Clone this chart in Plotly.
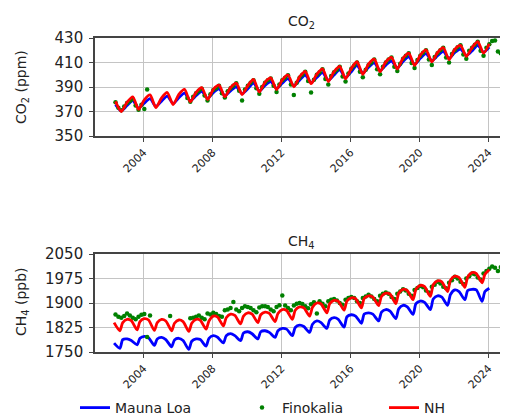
import plotly.graph_objects as go

# ---------------- data ----------------
YEARS = list(range(2002, 2025))

CO2_LINE_MONTHS = [1, 5, 9]
CH4_LINE_MONTHS = [1, 4, 8, 10]
DOT_MONTHS = [1, 3, 5, 7, 9, 11]

# CO2 (ppm) Mauna Loa, rows = years 2002..2024, columns = CO2_LINE_MONTHS
co2_mauna_loa = [
    [None, 375.6, 370.5], [374.9, 378.9, 372.8], [376.8, 380.5, 374.1],
    [378.5, 382.5, 376.5], [381.2, 385.0, 378.8], [382.9, 386.4, 380.7],
    [385.4, 388.5, 382.9], [386.9, 390.2, 384.6], [388.5, 393.2, 386.8],
    [391.3, 394.4, 388.8], [393.1, 396.8, 391.1], [395.6, 399.8, 393.6],
    [397.8, 401.8, 395.4], [399.9, 403.9, 397.6], [402.5, 407.6, 401.3],
    [406.1, 409.7, 403.4], [407.9, 411.2, 405.6], [410.9, 414.7, 408.5],
    [413.4, 417.3, 411.5], [415.5, 419.1, 413.3], [418.2, 421.0, 415.9],
    [419.5, 424.0, 418.5], [422.6, None, None],
]

# CO2 (ppm) NH
co2_nh = [
    [None, 378.3, 370.0], [377.6, 382.0, 371.8], [379.5, 383.5, 373.2],
    [381.2, 385.5, 375.6], [383.9, 388.0, 377.9], [385.6, 389.4, 379.8],
    [388.1, 391.5, 382.0], [389.6, 393.2, 383.7], [391.2, 396.2, 385.9],
    [394.0, 397.4, 387.9], [395.8, 399.8, 390.2], [398.3, 402.8, 392.7],
    [400.5, 404.8, 394.5], [402.6, 406.9, 396.7], [405.2, 410.6, 400.4],
    [408.8, 412.7, 402.5], [410.6, 414.2, 404.7], [413.6, 417.7, 407.6],
    [416.1, 420.3, 410.6], [418.2, 422.1, 412.4], [420.9, 424.0, 415.0],
    [422.2, 427.0, 417.6], [425.3, None, None],
]

# CO2 (ppm) Finokalia, columns = DOT_MONTHS
co2_finokalia = [
    [None, None, 377.5, 373.0, 371.0, 374.0],
    [377.0, 378.5, 380.0, 375.0, 371.5, 375.5],
    [372.0, 388.0, None, None, None, None],
    [None, None, None, None, None, None],
    [None, None, None, 381.0, 378.0, 382.0],
    [385.0, 387.0, 388.5, 383.0, 379.0, 384.0],
    [387.5, 389.0, 391.0, 385.0, 381.5, 386.5],
    [389.0, 391.0, 393.0, 387.0, 379.0, 388.0],
    [391.0, 393.5, 395.5, 389.0, 384.5, 390.0],
    [393.5, 395.5, 397.0, 391.0, 386.0, 392.0],
    [395.5, 397.5, 399.5, 392.0, 383.5, 393.5],
    [397.5, 400.0, 402.5, 395.0, 385.5, 396.0],
    [400.0, 402.0, 404.5, 396.5, 392.0, 399.0],
    [402.0, 404.0, 406.5, 398.5, 394.5, 401.0],
    [405.0, 407.5, 410.0, 402.5, 398.0, 404.0],
    [408.0, 410.0, 412.5, 404.5, 400.5, 406.5],
    [410.0, 412.5, 414.0, 406.5, 403.0, 409.0],
    [413.0, 415.5, 417.5, 409.5, 405.5, 412.0],
    [415.5, 418.0, 420.0, 412.5, 408.0, 414.5],
    [417.5, 420.0, 422.0, 414.0, 410.0, 417.0],
    [420.0, 422.5, 424.0, 416.5, 413.0, 419.5],
    [422.0, 424.5, 427.0, 419.5, 415.5, 422.0],
    [425.0, 427.5, 428.0, 419.0, 417.5, None],
]

# CH4 (ppb) Mauna Loa, columns = CH4_LINE_MONTHS
ch4_mauna_loa = [
    [None, 1777, 1761, 1788], [1790, 1785, 1772, 1792], [1798, 1793, 1770, 1790],
    [1795, 1788, 1766, 1787], [1792, 1785, 1758, 1783], [1790, 1788, 1768, 1792],
    [1800, 1795, 1778, 1800], [1806, 1800, 1785, 1808], [1812, 1806, 1790, 1812],
    [1815, 1810, 1795, 1815], [1822, 1820, 1800, 1825], [1832, 1828, 1810, 1835],
    [1845, 1840, 1822, 1848], [1855, 1850, 1826, 1858], [1864, 1860, 1838, 1866],
    [1870, 1866, 1845, 1872], [1880, 1875, 1852, 1882], [1893, 1888, 1865, 1898],
    [1906, 1902, 1880, 1912], [1922, 1918, 1893, 1926], [1940, 1935, 1910, 1938],
    [1942, 1940, 1905, 1935], [1945, None, None, None],
]

# CH4 (ppb) NH
ch4_nh = [
    [None, 1840, 1815, 1840], [1850, 1846, 1818, 1843], [1852, 1848, 1816, 1840],
    [1850, 1845, 1815, 1838], [1848, 1843, 1813, 1838], [1850, 1847, 1820, 1845],
    [1860, 1857, 1830, 1855], [1866, 1862, 1836, 1860], [1870, 1866, 1840, 1864],
    [1872, 1868, 1843, 1868], [1880, 1877, 1850, 1878], [1888, 1885, 1860, 1887],
    [1900, 1897, 1870, 1898], [1908, 1905, 1878, 1906], [1916, 1913, 1885, 1914],
    [1922, 1918, 1892, 1920], [1930, 1927, 1898, 1930], [1942, 1938, 1910, 1942],
    [1954, 1950, 1920, 1956], [1968, 1965, 1935, 1970], [1982, 1978, 1948, 1980],
    [1993, 1990, 1962, 1988], [2002, None, None, None],
]

# CH4 (ppb) Finokalia, columns = DOT_MONTHS
ch4_finokalia = [
    [None, None, 1865, 1858, 1855, 1860],
    [1868, 1862, 1855, 1850, 1858, 1864],
    [1866, 1796, 1862, None, None, None],
    [None, None, None, 1860, None, None],
    [None, None, None, None, 1853, 1855],
    [1858, 1862, 1855, 1850, 1868, 1865],
    [1870, 1866, 1860, 1858, 1878, 1880],
    [1885, 1903, 1880, 1875, 1885, 1890],
    [1888, 1885, 1878, 1872, 1886, 1890],
    [1890, 1888, 1880, 1875, 1888, 1893],
    [1923, 1892, 1885, 1878, 1892, 1898],
    [1900, 1897, 1890, 1884, 1896, 1902],
    [1868, 1905, 1898, 1890, 1905, 1910],
    [1912, 1908, 1900, 1895, 1910, 1915],
    [1918, 1915, 1905, 1900, 1915, 1920],
    [1925, 1920, 1912, 1905, 1922, 1928],
    [1932, 1928, 1918, 1912, 1928, 1935],
    [1942, 1938, 1928, 1922, 1940, 1946],
    [1952, 1948, 1938, 1932, 1950, 1956],
    [1965, 1960, 1950, 1945, 1962, 1970],
    [1980, 1975, 1965, 1958, 1975, 1982],
    [1990, 1988, 1978, 1972, 1990, 1998],
    [2005, 2012, 2008, 1998, 2010, 2000],
]

TICK_YEARS = [2004, 2008, 2012, 2016, 2020, 2024]
CO2_TICKS = [350, 370, 390, 410, 430]
CH4_TICKS = [1750, 1825, 1900, 1975, 2050]


def flatten(rows, months):
    xs, ys = [], []
    for year, row in zip(YEARS, rows):
        for m, v in zip(months, row):
            if v is not None:
                xs.append(f"{year}-{m:02d}-15")
                ys.append(v)
    return xs, ys


BLUE, GREEN, RED = "#0000ff", "#008000", "#ff0000"
FONT = "DejaVu Sans"
TXT = "#222222"

fig = go.Figure()

panels = [
    ("x", "y", co2_mauna_loa, co2_finokalia, co2_nh, CO2_LINE_MONTHS, False),
    ("x2", "y2", ch4_mauna_loa, ch4_finokalia, ch4_nh, CH4_LINE_MONTHS, True),
]
for xa, ya, mlo, fin, nh, lm, show in panels:
    x, y = flatten(mlo, lm)
    fig.add_trace(go.Scatter(x=x, y=y, mode="lines", name="Mauna Loa",
                             line=dict(color=BLUE, width=2.8, shape="spline", smoothing=0.7),
                             xaxis=xa, yaxis=ya, showlegend=show, legend="legend"))
    x, y = flatten(fin, DOT_MONTHS)
    fig.add_trace(go.Scatter(x=x, y=y, mode="markers", name="Finokalia",
                             marker=dict(color=GREEN, size=4.5), xaxis=xa, yaxis=ya,
                             showlegend=show, legend="legend2"))
    x, y = flatten(nh, lm)
    fig.add_trace(go.Scatter(x=x, y=y, mode="lines", name="NH",
                             line=dict(color=RED, width=2.8, shape="spline", smoothing=0.7),
                             xaxis=xa, yaxis=ya, showlegend=show, legend="legend3"))

# The page body adds an 8px offset, so the figure is laid out in (screen - 8) coordinates.
W, H = 500.0, 407.0
L = 87.0
PW = W - L
top_dom = [1 - 128 / H, 1 - 30 / H]
bot_dom = [1 - 344 / H, 1 - 246 / H]

xcommon = dict(
    type="date",
    range=["2001-03-07", "2025-02-14"],
    tickvals=[f"{y}-01-01" for y in TICK_YEARS],
    ticktext=[str(y) for y in TICK_YEARS],
    tickangle=-45,
    tickfont=dict(family=FONT, size=11, color=TXT),
    showgrid=True, gridcolor="#c4c4c4", gridwidth=1.2,
    showline=True, linecolor="#444", linewidth=1.6, mirror=True,
    ticks="outside", ticklen=4, tickcolor="#444", tickwidth=1.2,
    zeroline=False, automargin=False,
)
ycommon = dict(
    tickfont=dict(family=FONT, size=15, color=TXT),
    showgrid=True, gridcolor="#c4c4c4", gridwidth=1.2,
    showline=True, linecolor="#444", linewidth=1.6, mirror=False,
    ticks="outside", ticklen=4, tickcolor="#444", tickwidth=1.2,
    ticklabelstandoff=3,
    zeroline=False, automargin=False,
)

legcommon = dict(orientation="h", yref="container", yanchor="middle", y=(H - 400) / H,
                 xanchor="left",
                 font=dict(family=FONT, size=14, color=TXT),
                 bgcolor="rgba(0,0,0,0)", borderwidth=0)


def px_x(screen_x):
    return (screen_x - 8 - L) / PW


def px_y(screen_y):
    return 1 - (screen_y - 8) / H


fig.update_layout(
    width=W, height=H,
    margin=dict(l=L, r=0, t=0, b=0, autoexpand=False),
    paper_bgcolor="white", plot_bgcolor="white",
    xaxis=dict(domain=[0, 1], anchor="y", **xcommon),
    yaxis=dict(domain=top_dom, anchor="x", range=[350, 430], tickvals=CO2_TICKS, **ycommon),
    xaxis2=dict(domain=[0, 1], anchor="y2", **xcommon),
    yaxis2=dict(domain=bot_dom, anchor="x2", range=[1750, 2050], tickvals=CH4_TICKS, **ycommon),
    legend=dict(x=px_x(75), **legcommon),
    legend2=dict(x=px_x(242), **legcommon),
    legend3=dict(x=px_x(384), **legcommon),
    annotations=[
        dict(text="CO<sub>2</sub>", xref="paper", yref="paper", x=0.5, y=px_y(33),
             xanchor="center", yanchor="bottom", showarrow=False,
             font=dict(family=FONT, size=14, color=TXT)),
        dict(text="CH<sub>4</sub>", xref="paper", yref="paper", x=0.5, y=px_y(253),
             xanchor="center", yanchor="bottom", showarrow=False,
             font=dict(family=FONT, size=14, color=TXT)),
        dict(text="CO<sub>2</sub> (ppm)", xref="paper", yref="paper", x=px_x(22), y=px_y(87),
             xanchor="center", yanchor="middle", textangle=-90, showarrow=False,
             font=dict(family=FONT, size=14, color=TXT)),
        dict(text="CH<sub>4</sub> (ppb)", xref="paper", yref="paper", x=px_x(22), y=px_y(302),
             xanchor="center", yanchor="middle", textangle=-90, showarrow=False,
             font=dict(family=FONT, size=14, color=TXT)),
    ],
)

fig.write_html("out.html")
